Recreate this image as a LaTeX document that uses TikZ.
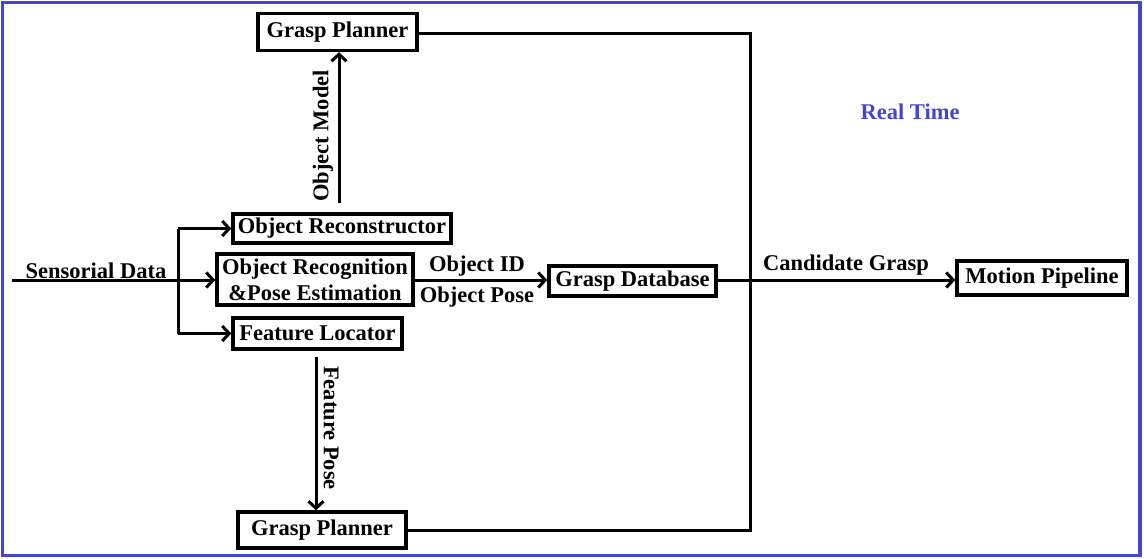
\documentclass[tikz,border=0pt]{standalone}
\usepackage{fontspec}
\setmainfont{Liberation Serif}
\usetikzlibrary{arrows.meta}
\definecolor{frameblue}{RGB}{68,70,210}
\begin{document}
\begin{tikzpicture}[x=1pt,y=-1pt,
  every node/.style={font=\fontsize{22.5}{26}\selectfont\bfseries},
  blk/.style={draw=black,line width=3.4pt,inner sep=0pt,align=center},
  lbl/.style={inner sep=0pt},
  conn/.style={line width=3pt,draw=black},
  arr/.style={conn,-{Straight Barb[length=7pt,width=15pt,line width=3pt]}}]
\useasboundingbox (0,0) rectangle (1144,558);
\draw[frameblue,line width=3.5pt] (2.5,2.5) rectangle (1140,555.5);

\node[blk,minimum width=159pt,minimum height=37pt] (gp1) at (337.5,32) {Grasp Planner};
\node[blk,minimum width=218pt,minimum height=29pt] (orc) at (342,228.5) {Object Reconstructor};
\node[blk,minimum width=196pt,minimum height=51pt] (rec) at (315,279.5) {Object Recognition\\\&Pose Estimation};
\node[blk,minimum width=169pt,minimum height=31pt] (fl) at (317.5,333.5) {Feature Locator};
\node[blk,minimum width=167pt,minimum height=30pt] (gdb) at (632.5,281) {Grasp Database};
\node[blk,minimum width=170pt,minimum height=34pt] (mp) at (1042,278) {Motion Pipeline};
\node[blk,minimum width=168pt,minimum height=36pt] (gp2) at (322,530) {Grasp Planner};

\node[lbl,text=frameblue] (rt) at (910,112) {Real Time};

\coordinate (sd) at (12,280);
\coordinate (brt) at (178,228.5);
\coordinate (brb) at (178,333.5);

% sensorial data
\draw[arr] (sd) -- (rec.west |- sd);
\node[lbl,anchor=south] (sdl) at (96,279) {Sensorial Data};
\draw[conn] (brt) -- (brb);
\draw[arr] (brt) -- (orc.west);
\draw[arr] (brb) -- (fl.west);

% object model
\coordinate (om) at (339,203);
\draw[arr] (om) -- (om |- gp1.south);
\node[lbl,rotate=90] (oml) at (323,136) {Object Model};

% feature pose
\coordinate (fp) at (316,357);
\draw[arr] (fp) -- (fp |- gp2.north);
\node[lbl,rotate=-90] (fpl) at (331,428) {Feature Pose};

% object id / pose
\draw[arr] (rec.east |- sd) -- (gdb.west |- sd);
\node[lbl] (oid) at (477,266) {Object ID};
\node[lbl] (opo) at (477,297) {Object Pose};

% candidate grasp
\draw[arr] (gdb.east |- sd) -- (mp.west |- sd);
\node[lbl] (cg) at (846,265) {Candidate Grasp};

% grasp planners to vertical line
\draw[conn] (gp1.east |- 0,33) -- (750,33) -- (750,530) -- (gp2.east |- 0,530);
\end{tikzpicture}
\end{document}
